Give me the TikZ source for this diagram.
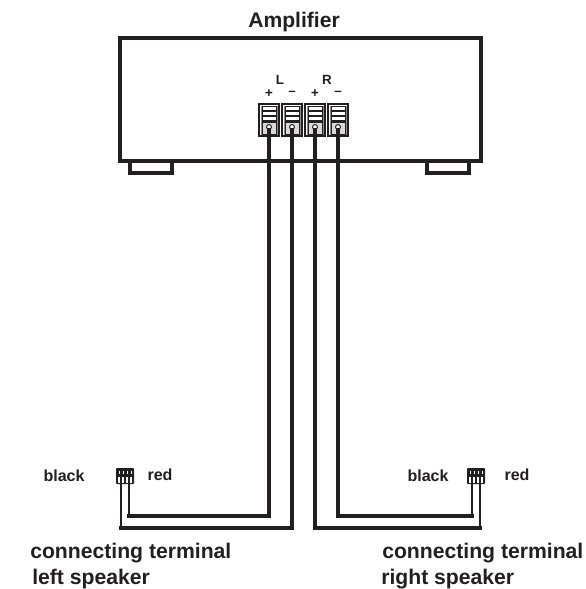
\documentclass[tikz,border=0pt]{standalone}
\usepackage{fontspec}
\setmainfont{Liberation Sans}
\usepackage{tikz}
\usetikzlibrary{positioning,calc}
\definecolor{ink}{HTML}{231F20}
\tikzset{
  lbl/.style={inner sep=0pt,text=ink,font=\bfseries\fontsize{#1}{#1}\selectfont},
  lbl/.default=11.4pt,
  wire/.style={draw=ink,line width=2.5pt,line join=miter,line cap=rect},
  thinwire/.style={draw=ink,line width=1.9pt},
  post/.style={draw=ink,fill=white,circle,inner sep=0pt,minimum size=3.5pt,line width=0.7pt},
}
\begin{document}
\begin{tikzpicture}[x=0.025cm,y=-0.025cm]
\useasboundingbox (0,0) rectangle (585,589);

\node[lbl=15pt,anchor=base] (amptext) at (294,28) {Amplifier};

% amplifier case
\draw [draw=ink,line width=2.9pt] (120,38) rectangle (481,161);
\draw [draw=ink,line width=2.9pt] (130,163) |- (172,173) -- (172,163);
\draw [draw=ink,line width=2.9pt] (427,163) |- (469,173) -- (469,163);

% binding posts
\foreach \name/\px in {lp/269,lm/292,rp/315,rm/338}{
  \draw [draw=ink,fill=white,line width=1.1pt] (\px-10,104) rectangle (\px+10,136);
  \draw [draw=black!45,line width=0.7pt] (\px-8,106) rectangle (\px+8,134);
  \foreach \py in {108,113,118,123}{
    \draw [draw=ink,fill=white,line width=0.5pt] (\px-7,\py-2) rectangle (\px+7,\py+2);
  }
  \draw [draw=ink,fill=black!15,line width=0.5pt] (\px-7,122) rectangle (\px+7,134);
  \node[post] (\name) at (\px,127) {};
}

\node[lbl=9.5pt] (ltext) at (280,80) {L};
\node[lbl=9.5pt] (rtext) at (327,80) {R};
\node[lbl=9.5pt] (lpsign) at (269,94) {+};
\node[lbl=9.5pt] (lmsign) at (292,93) {–};
\node[lbl=9.5pt] (rpsign) at (315,94) {+};
\node[lbl=9.5pt] (rmsign) at (338,93) {–};

% speaker terminals
\foreach \name/\tx in {sl/125,sr/476}{
  \fill [ink,rounded corners=0.6pt] (\tx-9,468) rectangle (\tx+9,484);
  \foreach \dx in {-6,-2,2,6}{
    \draw [white,line width=0.7pt] (\tx+\dx,471) -- (\tx+\dx,474);
    \draw [white,line width=0.9pt] (\tx+\dx,477) -- (\tx+\dx,483);
  }
  \coordinate (\name a) at (\tx-4,484);
  \coordinate (\name b) at (\tx+4,484);
}

\coordinate (cornerlp) at (129,516);
\coordinate (cornerlm) at (121,528);
\coordinate (cornerrp) at (480,528);
\coordinate (cornerrm) at (472,516);

\draw [thinwire] (slb) -- (cornerlp);
\draw [thinwire] (sla) -- (cornerlm);
\draw [thinwire] (srb) -- (cornerrp);
\draw [thinwire] (sra) -- (cornerrm);

\draw [wire] (lp.south) |- (cornerlp);
\draw [wire] (lm.south) |- (cornerlm);
\draw [wire] (rp.south) |- (cornerrp);
\draw [wire] (rm.south) |- (cornerrm);

\node[lbl] (blackl) at (64,476) {black};
\node[lbl] (redl) at (160,475) {red};
\node[lbl] (blackr) at (428,476) {black};
\node[lbl] (redr) at (517,475) {red};

\node[lbl=15.05pt,anchor=base west] (conl) at (30,558) {connecting terminal};
\node[lbl=15.05pt,anchor=base west] (spkl) at (32,584) {left speaker};
\node[lbl=15.05pt,anchor=base west] (conr) at (382,558) {connecting terminal};
\node[lbl=15.05pt,anchor=base west] (spkr) at (381,584) {right speaker};
\end{tikzpicture}
\end{document}
